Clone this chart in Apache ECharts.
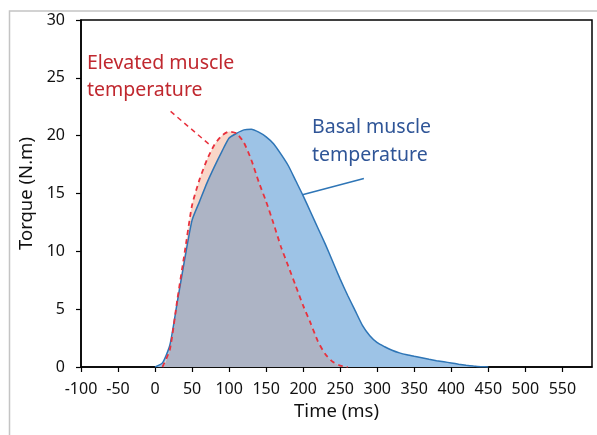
<!DOCTYPE html>
<html>
<head>
<meta charset="utf-8">
<script src="https://cdn.jsdelivr.net/npm/echarts@6/dist/echarts.min.js"></script>
<style>
html,body{margin:0;padding:0;background:#fff;}
#chart{width:597px;height:435px;}
</style>
</head>
<body>
<div id="chart"></div>
<script>
// Time samples (ms)
const times = [0,10,20,30,40,50,60,70,80,90,100,110,120,130,140,150,160,170,180,190,200,210,220,230,240,250,260,270,280,290,300,310,320,330,340,350,360,370,380,390,400,410,420,430,440,450];
// Basal muscle temperature torque (N.m)
const basal = [0,0.35,1.9,5.6,9.3,12.7,14.3,15.9,17.3,18.6,19.8,20.2,20.5,20.55,20.3,19.9,19.3,18.4,17.4,16.1,14.8,13.4,12.0,10.6,9.1,7.6,6.2,4.9,3.6,2.7,2.1,1.75,1.45,1.22,1.05,0.92,0.8,0.67,0.55,0.45,0.35,0.24,0.15,0.08,0.03,0];
// Elevated muscle temperature torque (N.m), same time samples up to 260 ms
const elevated = [null,0,1.5,5.8,9.9,14.0,16.2,17.9,19.2,20.0,20.35,20.2,19.4,17.9,16.0,14.3,12.4,10.4,8.7,7.0,5.3,3.8,2.2,1.1,0.45,0.12,0];

const basalLabel = 'Basal muscle\ntemperature';
const elevatedLabel = 'Elevated muscle\ntemperature';

const basalPts = times.map((t,i)=>[t,basal[i]]);
const elevPts = elevated.map((v,i)=>[times[i],v]);
const overlapPts = elevated.map((v,i)=>[times[i], Math.min(v==null?0:v, basal[i])]);

const chart = echarts.init(document.getElementById('chart'));
const font = 'Noto Sans';
const fillSeries = (name,data,color,z)=>({
  name, type:'line', data, symbol:'none', silent:true, z, smooth:0.2,
  lineStyle:{width:0,opacity:0}, areaStyle:{color, opacity:1}
});
chart.setOption({
  animation:false,
  textStyle:{fontFamily:font},
  grid:{left:81,right:5,top:20,bottom:68,show:true,borderColor:'#000',borderWidth:1.5,backgroundColor:'transparent'},
  xAxis:{
    type:'value', min:-100, max:590, interval:50,
    name:'Time (ms)', nameLocation:'middle', nameGap:35,
    nameTextStyle:{fontSize:18.5,color:'#111',fontFamily:font},
    axisLine:{show:true,onZero:false,lineStyle:{color:'#000',width:1.5}},
    axisTick:{show:true,inside:false,length:5,lineStyle:{color:'#000',width:1.2}},
    axisLabel:{fontSize:16,color:'#111',margin:14,showMaxLabel:false,fontFamily:font},
    splitLine:{show:false}
  },
  yAxis:{
    type:'value', min:0, max:30, interval:5,
    name:'Torque (N.m)', nameLocation:'middle', nameGap:38,
    nameTextStyle:{fontSize:18.5,color:'#111',fontFamily:font},
    axisLine:{show:true,onZero:false,lineStyle:{color:'#000',width:1.5}},
    axisTick:{show:true,inside:false,length:5,lineStyle:{color:'#000',width:1.2}},
    axisLabel:{fontSize:16,color:'#111',margin:16,fontFamily:font},
    splitLine:{show:false}
  },
  series:[
    fillSeries('basalFill',basalPts,'#9DC3E6',1),
    fillSeries('elevFill',elevPts,'#F9D6C8',2),
    fillSeries('overlapFill',overlapPts,'#ADB4C5',3),
    {name:'Basal muscle temperature',type:'line',data:basalPts,symbol:'none',z:4,smooth:0.2,
     lineStyle:{color:'#2E75B6',width:1.5}},
    {name:'Elevated muscle temperature',type:'line',data:elevPts,symbol:'none',z:5,smooth:0.2,
     lineStyle:{color:'#E8323E',width:1.8,type:[5,4]}}
  ]
});

// annotations anchored in data coordinates
const P = (t,v)=>chart.convertToPixel({gridIndex:0},[t,v]);
const e1 = P(21,22.1), e2 = P(74,19.2);
const b1 = P(282,16.3), b2 = P(199,14.9);
const eText = P(-92,27.4), bText = P(212,21.9);
chart.setOption({
  graphic:[
    {type:'rect',shape:{x:9.5,y:11,width:620,height:460},style:{fill:null,stroke:'#c4c4c4',lineWidth:1.5},silent:true,z:0},
    {type:'line',shape:{x1:e1[0],y1:e1[1],x2:e2[0],y2:e2[1]},style:{stroke:'#E8323E',lineWidth:1.5,lineDash:[5,4]},z:10},
    {type:'line',shape:{x1:b1[0],y1:b1[1],x2:b2[0],y2:b2[1]},style:{stroke:'#2E75B6',lineWidth:1.5},z:10},
    {type:'text',x:eText[0],y:eText[1],style:{text:elevatedLabel,fill:'#C0282F',font:'19.5px "Noto Sans"',lineHeight:27},z:10},
    {type:'text',x:bText[0],y:bText[1],style:{text:basalLabel,fill:'#2F5597',font:'19.5px "Noto Sans"',lineHeight:28},z:10}
  ]
});
</script>
</body>
</html>
